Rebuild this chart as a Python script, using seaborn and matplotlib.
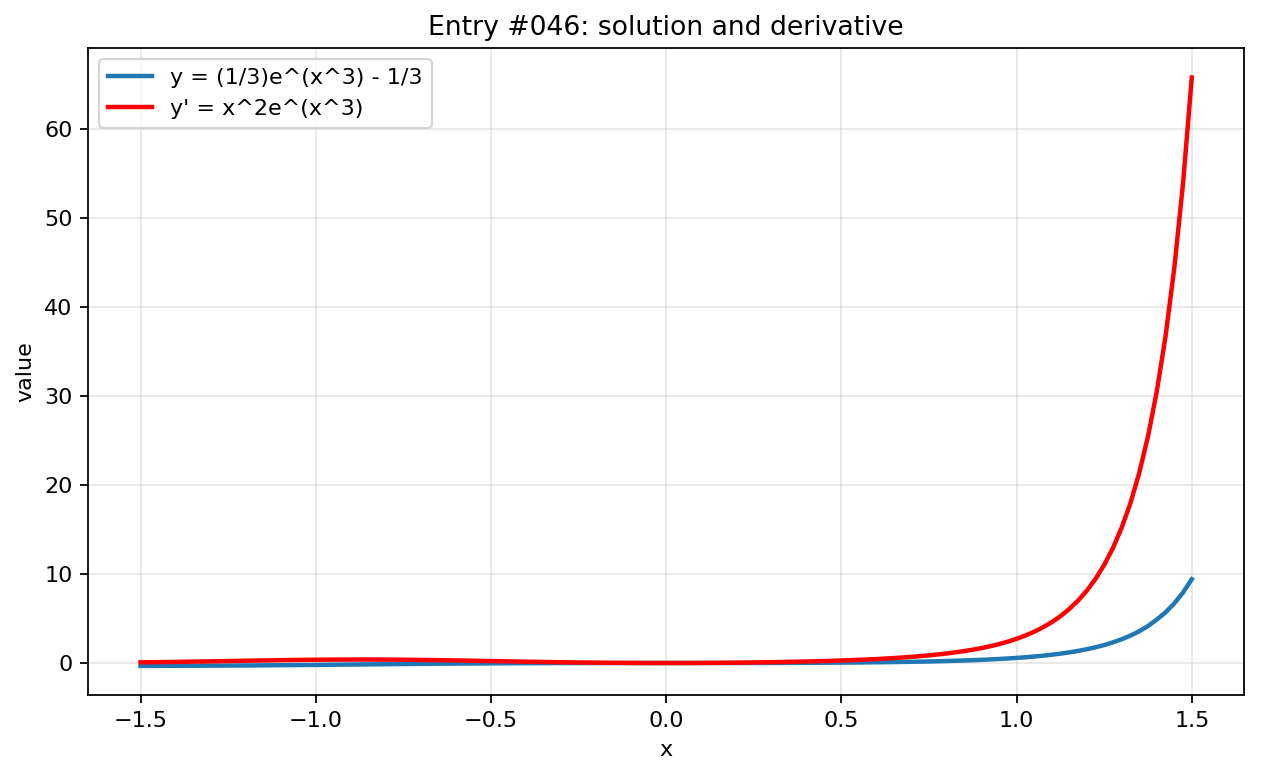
import matplotlib
matplotlib.use("Agg")
import matplotlib.pyplot as plt
import seaborn as sns
import pandas as pd

x_vals = [-1.5, -1.45, -1.4, -1.35, -1.3, -1.25, -1.2, -1.15, -1.1, -1.05,
          -1.0, -0.95, -0.9, -0.85, -0.8, -0.75, -0.7, -0.65, -0.6, -0.55,
          -0.5, -0.45, -0.4, -0.35, -0.3, -0.25, -0.2, -0.15, -0.1, -0.05,
          0.0, 0.05, 0.1, 0.15, 0.2, 0.25, 0.3, 0.35, 0.4, 0.45,
          0.5, 0.55, 0.6, 0.65, 0.7, 0.75, 0.8, 0.85, 0.875, 0.9, 0.925, 0.95, 0.975,
          1.0, 1.025, 1.05, 1.075, 1.1, 1.125, 1.15, 1.175, 1.2, 1.225, 1.25, 1.275, 1.3, 1.325, 1.35,
          1.375, 1.4, 1.425, 1.45, 1.475, 1.5]

y_solution = [-0.3219, -0.3175, -0.3119, -0.3049, -0.2963, -0.2860, -0.2741, -0.2605, -0.2453, -0.2286,
              -0.2107, -0.1919, -0.1725, -0.1530, -0.1336, -0.1147, -0.0968, -0.0800, -0.0648, -0.0511,
              -0.0392, -0.0290, -0.0207, -0.0140, -0.0089, -0.0052, -0.0027, -0.0011, -0.0003, 0.0000,
              0.0, 0.0000, 0.0003, 0.0011, 0.0027, 0.0053, 0.0091, 0.0146, 0.0220, 0.0318,
              0.0444, 0.0603, 0.0804, 0.1054, 0.1364, 0.1749, 0.2229, 0.2827, 0.3180, 0.3577, 0.4022, 0.4523, 0.5089,
              0.5728, 0.6452, 0.7275, 0.8212, 0.9283, 1.0510, 1.1921, 1.3548, 1.5432, 1.7619, 2.0169, 2.3153, 2.6660, 3.0797, 3.5700,
              4.1528, 4.8826, 5.6863, 6.6955, 7.9183, 9.4081]

y_derivative = [0.0770, 0.0997, 0.1260, 0.1557, 0.1878, 0.2216, 0.2558, 0.2890, 0.3197, 0.3464,
                0.3679, 0.3829, 0.3907, 0.3909, 0.3836, 0.3689, 0.3477, 0.3210, 0.2901, 0.2561,
                0.2206, 0.1849, 0.1501, 0.1174, 0.0876, 0.0615, 0.0397, 0.0224, 0.0100, 0.0025,
                0.0, 0.0025, 0.0100, 0.0226, 0.0403, 0.0635, 0.0925, 0.1279, 0.1706, 0.2218,
                0.2833, 0.3573, 0.4468, 0.5560, 0.6905, 0.8577, 1.0679, 1.3352, 1.4961, 1.6791, 1.8880, 2.1271, 2.4018,
                2.7183, 3.0842, 3.5086, 4.0026, 4.5797, 5.2561, 6.0520, 6.9920, 8.1065, 9.4324, 11.0167, 12.917, 15.2065, 17.976, 21.341,
                25.445, 30.474, 36.671, 44.334, 53.859, 65.755]

label_solution = "y = (1/3)e^(x^3) - 1/3"
label_derivative = "y' = x^2e^(x^3)"

df = pd.DataFrame({"x": x_vals, "sol": y_solution, "der": y_derivative})

fig = plt.figure(figsize=(1261 / 160, 776 / 160), dpi=160)
ax = fig.add_axes([0.0698, 0.104, 0.917, 0.834])

sns.lineplot(data=df, x="x", y="sol", ax=ax, color="#1f77b4", linewidth=2, label=label_solution)
sns.lineplot(data=df, x="x", y="der", ax=ax, color="red", linewidth=2, label=label_derivative)

ax.grid(True, alpha=0.3)
ax.set_title("Entry #046: solution and derivative", fontsize=12)
ax.set_xlabel("x")
ax.set_ylabel("value")
ax.legend(loc="upper left")

fig.savefig("out.png", dpi=160)
